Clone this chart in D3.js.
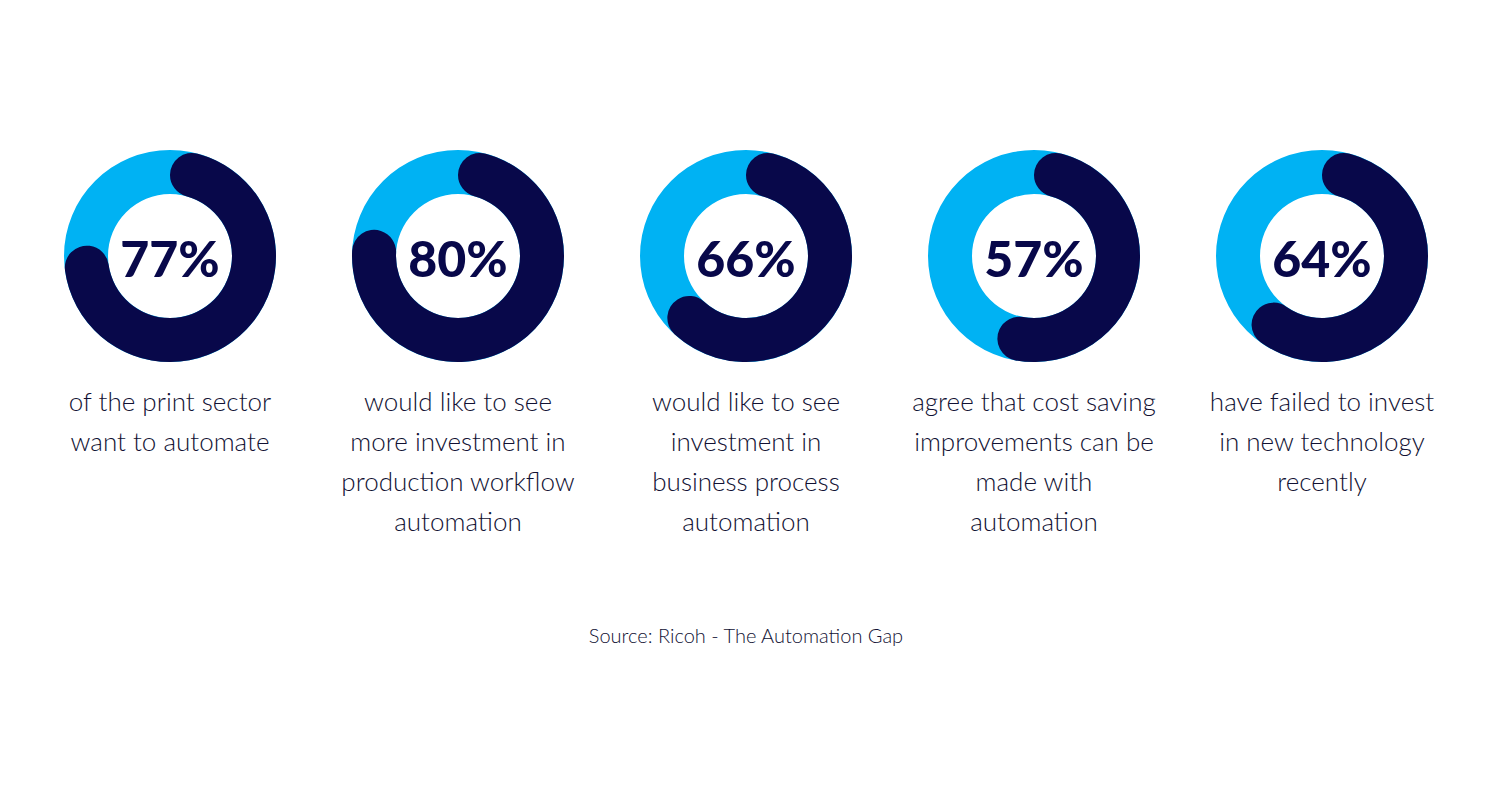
<!DOCTYPE html>
<html>
<head>
<meta charset="utf-8">
<script src="https://cdn.jsdelivr.net/npm/d3@7"></script>
<style>
  body { margin: 0; background: #fff; }
  text { font-family: Lato, "Open Sans", sans-serif; }
</style>
</head>
<body>
<script>
// chart data
const values = [77, 80, 66, 57, 64];
const labels = [
  ["of the print sector", "want to automate"],
  ["would like to see", "more investment in", "production workflow", "automation"],
  ["would like to see", "investment in", "business process", "automation"],
  ["agree that cost saving", "improvements can be", "made with", "automation"],
  ["have failed to invest", "in new technology", "recently"]
];
const source = "Source: Ricoh - The Automation Gap";

const width = 1500, height = 800;
const darkColor = "#08084a";
const lightColor = "#00b2f3";
const textColor = "#111133";

const svg = d3.select("body").append("svg")
  .attr("width", width)
  .attr("height", height);

// one position per donut
const xScale = d3.scalePoint()
  .domain(d3.range(values.length))
  .range([170, 1322]);

const angle = d3.scaleLinear().domain([0, 100]).range([0, 2 * Math.PI]);

const outerR = 106, innerR = 62, cy = 256;

const ring = d3.arc().innerRadius(innerR).outerRadius(outerR).startAngle(0).endAngle(2 * Math.PI);
const fill = d3.arc().innerRadius(innerR).outerRadius(outerR)
  .startAngle(0)
  .endAngle(d => angle(d))
  .cornerRadius((outerR - innerR) / 2);

const groups = svg.selectAll("g.donut")
  .data(values)
  .enter()
  .append("g")
  .attr("class", "donut")
  .attr("transform", (d, i) => `translate(${xScale(i)}, ${cy})`);

groups.append("path")
  .attr("d", ring())
  .attr("fill", lightColor);

groups.append("path")
  .attr("d", d => fill(d))
  .attr("fill", darkColor);

groups.append("text")
  .attr("text-anchor", "middle")
  .attr("y", 21)
  .attr("font-size", 50)
  .attr("font-weight", 900)
  .attr("fill", darkColor)
  .text(d => d + "%");

// description text under each donut
svg.selectAll("text.label")
  .data(labels)
  .enter()
  .append("text")
  .attr("class", "label")
  .attr("text-anchor", "middle")
  .attr("font-size", 26)
  .attr("font-weight", 300)
  .attr("fill", textColor)
  .attr("x", (d, i) => xScale(i))
  .attr("y", 411)
  .selectAll("tspan")
  .data(d => d)
  .enter()
  .append("tspan")
  .attr("x", function() { return d3.select(this.parentNode).attr("x"); })
  .attr("dy", (d, i) => i === 0 ? 0 : 40)
  .text(d => d);

svg.append("text")
  .attr("x", 746)
  .attr("y", 643)
  .attr("text-anchor", "middle")
  .attr("font-size", 20)
  .attr("font-weight", 300)
  .attr("fill", textColor)
  .text(source);
</script>
</body>
</html>
